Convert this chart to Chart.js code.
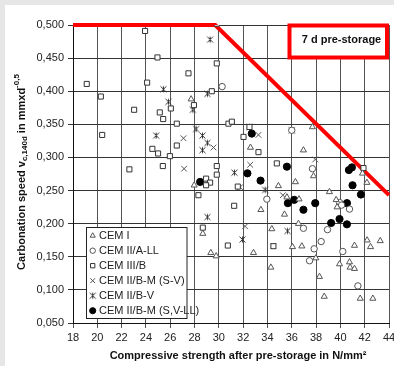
<!DOCTYPE html>
<html>
<head>
<meta charset="utf-8">
<script src="https://cdn.jsdelivr.net/npm/chart.js@4"></script>
<style>
  html, body { margin: 0; padding: 0; background: #ffffff; }
  canvas { display: block; }
</style>
</head>
<body>
<canvas id="c" width="394" height="366"></canvas>
<script>
// Compressive strength (N/mm²) vs. carbonation speed, one list per cement type
const cemI = [
  [27.72,0.388],[32.6,0.315],[37.7,0.346],[36.96,0.311],[37.79,0.272],[41.82,0.276],
  [27.97,0.258],[34.9,0.257],[36.3,0.263],[42.18,0.262],[35.6,0.240],[36.6,0.237],
  [39.1,0.248],[33.46,0.221],[35.4,0.214],[39.65,0.236],[39.73,0.225],[36.55,0.200],
  [28.68,0.185],[34.36,0.192],[36.06,0.165],[36.83,0.166],[41.16,0.167],[42.2,0.175],
  [42.48,0.165],[43.28,0.174],[29.34,0.156],[29.78,0.151],[32.85,0.156],[37.98,0.148],
  [34.28,0.134],[39.93,0.139],[40.75,0.142],[40.8,0.134],[41.16,0.132],[38.28,0.120],
  [38.67,0.090],[41.63,0.087],[42.67,0.087]
];
const cemIIALL = [
  [30.27,0.407],[36.0,0.341],[37.7,0.283],[33.95,0.237],[39.93,0.232],[40.1,0.228],
  [40.75,0.222],[36.96,0.193],[38.94,0.191],[38.42,0.173],[37.84,0.162],[40.2,0.158],
  [37.46,0.144],[41.44,0.106]
];
const cemIIIB = [
  [23.93,0.491],[24.95,0.451],[19.13,0.411],[24.1,0.413],[20.29,0.392],[26.05,0.374],
  [23.03,0.372],[25.14,0.368],[25.42,0.358],[26.54,0.351],[20.4,0.334],[26.54,0.318],
  [24.53,0.313],[25.0,0.306],[25.97,0.302],[25.39,0.287],[22.64,0.282],[27.5,0.427],
  [27.95,0.379],[29.83,0.502],[29.83,0.442],[29.42,0.400],[30.79,0.351],[31.07,0.354],
  [32.03,0.331],[32.52,0.346],[33.26,0.308],[34.77,0.291],[41.9,0.284],[29.83,0.287],
  [29.83,0.274],[28.95,0.268],[29.28,0.262],[28.95,0.258],[28.32,0.243],[31.56,0.256],
  [31.26,0.227],[28.68,0.194],[30.74,0.167],[34.49,0.166]
];
const cemIIBMSV = [
  [27.09,0.329],[27.14,0.283],[29.56,0.315],[33.26,0.334],[37.93,0.297],[32.58,0.289],
  [31.75,0.255],[35.27,0.243],[32.16,0.196],[34.49,0.166]
];
const cemIIBV = [
  [25.44,0.403],[25.85,0.384],[24.84,0.333],[27.86,0.372],[29.28,0.478],[29.06,0.396],
  [28.13,0.343],[28.65,0.333],[29.06,0.322],[28.65,0.311],[32.52,0.346],[36.0,0.341],
  [31.28,0.277],[33.81,0.251],[29.06,0.210],[35.65,0.189],[31.94,0.176]
];
const cemIIBMSVLL = [
  [32.71,0.336],[35.6,0.286],[40.7,0.281],[40.95,0.285],[32.35,0.276],[33.43,0.265],
  [28.46,0.263],[41.0,0.258],[41.69,0.244],[35.68,0.231],[36.2,0.236],[36.96,0.221],
  [37.93,0.231],[40.54,0.231],[39.24,0.201],[39.93,0.207],[40.54,0.199]
];

// Limit curve
const limitX = [18, 29.7, 44];
const limitY = [0.5, 0.5, 0.243];

const seriesNames = ['CEM I', 'CEM II/A-LL', 'CEM III/B', 'CEM II/B-M (S-V)', 'CEM II/B-V', 'CEM II/B-M (S,V-LL)'];
const boxText = '7 d pre-storage';
const xTitle = 'Compressive strength after pre-storage in N/mm²';

const FONT = '"Liberation Sans", Arial, sans-serif';
const MARK = '#333333';

// asterisk marker: an × with a vertical bar
function asteriskMarker() {
  const c = document.createElement('canvas');
  c.width = 9; c.height = 9;
  const g = c.getContext('2d');
  g.strokeStyle = MARK; g.lineWidth = 1;
  g.beginPath();
  g.moveTo(1.5, 1.5); g.lineTo(7.5, 7.5);
  g.moveTo(7.5, 1.5); g.lineTo(1.5, 7.5);
  g.moveTo(4.5, 1.5); g.lineTo(4.5, 7.5);
  g.stroke();
  return c;
}
const asterisk = asteriskMarker();

const toXY = arr => arr.map(p => ({ x: p[0], y: p[1] }));

const styles = [
  { pointStyle: 'triangle', radius: 3.5, bg: '#ffffff', border: '#555555' },
  { pointStyle: 'circle', radius: 3.2, bg: '#ffffff', border: '#555555' },
  { pointStyle: 'rect', radius: 3.6, bg: '#ffffff', border: MARK },
  { pointStyle: 'crossRot', radius: 4, bg: '#ffffff', border: '#555555' },
  { pointStyle: asterisk, radius: 4, bg: '#ffffff', border: MARK },
  { pointStyle: 'circle', radius: 3.6, bg: '#000000', border: '#000000' }
];
const seriesData = [cemI, cemIIALL, cemIIIB, cemIIBMSV, cemIIBV, cemIIBMSVLL];

const datasets = seriesData.map((d, i) => ({
  type: 'scatter',
  label: seriesNames[i],
  data: toXY(d),
  pointStyle: styles[i].pointStyle,
  pointRadius: styles[i].radius,
  pointBackgroundColor: styles[i].bg,
  pointBorderColor: styles[i].border,
  pointBorderWidth: 1,
  order: 1
}));

datasets.push({
  type: 'line',
  label: 'limit',
  data: limitX.map((x, i) => ({ x: x, y: limitY[i] })),
  borderColor: '#ff0000',
  borderWidth: 4,
  pointRadius: 0,
  fill: false,
  clip: false,
  order: 5
});

const decor = {
  id: 'decor',
  beforeDraw(chart) {
    const ctx = chart.ctx;
    ctx.save();
    ctx.fillStyle = '#ffffff';
    ctx.fillRect(0, 0, chart.width, chart.height);
    ctx.fillStyle = '#e6e6e6';
    ctx.fillRect(0, 0, chart.width, 5);
    ctx.fillRect(0, 0, 5, chart.height);
    ctx.restore();
  },
  afterDraw(chart) {
    const ctx = chart.ctx;
    ctx.save();

    // legend box
    ctx.fillStyle = '#ffffff';
    ctx.fillRect(86.5, 227.5, 100.5, 91);
    ctx.strokeStyle = '#222222';
    ctx.lineWidth = 1;
    ctx.strokeRect(86.5, 227.5, 100.5, 91);
    ctx.font = '11px ' + FONT;
    ctx.textBaseline = 'middle';
    ctx.textAlign = 'left';
    seriesNames.forEach((name, i) => {
      const y = 235.7 + i * 15;
      const s = styles[i];
      ctx.fillStyle = s.bg;
      ctx.strokeStyle = s.border;
      ctx.lineWidth = 1;
      Chart.helpers.drawPoint(ctx, { pointStyle: s.pointStyle, rotation: 0, radius: s.radius * 0.85, borderWidth: 1 }, 92.7, y);
      ctx.fillStyle = '#222222';
      ctx.fillText(name, 99, y + 0.5);
    });

    // pre-storage note
    ctx.fillStyle = '#ffffff';
    ctx.fillRect(289.5, 25.5, 97.5, 32);
    ctx.strokeStyle = '#ff0000';
    ctx.lineWidth = 4;
    ctx.strokeRect(289.5, 25.5, 97.5, 32);
    ctx.fillStyle = '#111111';
    ctx.font = 'bold 11px ' + FONT;
    ctx.textAlign = 'center';
    ctx.fillText(boxText, 341.5, 40);

    // x axis title
    ctx.fillStyle = '#111111';
    ctx.font = 'bold 11px ' + FONT;
    ctx.textAlign = 'center';
    ctx.fillText(xTitle, 238, 356);

    // y axis title with subscript and superscript
    const parts = [
      ['Carbonation speed v', 'bold 11px ' + FONT, 0],
      ['c,140d', 'bold 8px ' + FONT, 3],
      [' in mmxd', 'bold 11px ' + FONT, 0],
      ['-0,5', 'bold 8px ' + FONT, -5]
    ];
    let total = 0;
    parts.forEach(p => { ctx.font = p[1]; total += ctx.measureText(p[0]).width; });
    ctx.translate(22, 172);
    ctx.rotate(-Math.PI / 2);
    ctx.textAlign = 'left';
    let xx = -total / 2;
    parts.forEach(p => {
      ctx.font = p[1];
      ctx.fillText(p[0], xx, p[2]);
      xx += ctx.measureText(p[0]).width;
    });
    ctx.restore();
  }
};

new Chart(document.getElementById('c'), {
  data: { datasets: datasets },
  options: {
    responsive: false,
    animation: false,
    devicePixelRatio: 1,
    layout: { padding: { left: 5, top: 25, right: 0, bottom: 0 } },
    plugins: { legend: { display: false }, tooltip: { enabled: false } },
    scales: {
      x: {
        type: 'linear',
        min: 18, max: 44,
        afterFit: s => { s.height = 43; s.paddingRight = 5; },
        ticks: { stepSize: 2, color: '#222222', font: { family: FONT, size: 11 }, padding: 3 },
        grid: { color: '#555555', lineWidth: 1, tickLength: 5 },
        border: { color: '#111111', width: 1 }
      },
      y: {
        type: 'linear',
        min: 0.05, max: 0.5,
        afterFit: s => { s.width = 68; },
        ticks: {
          stepSize: 0.05,
          color: '#222222',
          font: { family: FONT, size: 11 },
          padding: 4,
          callback: v => v.toFixed(3).replace('.', ',')
        },
        grid: { color: '#333333', lineWidth: 1, tickLength: 5 },
        border: { color: '#111111', width: 1 }
      }
    }
  },
  plugins: [decor]
});
</script>
</body>
</html>
